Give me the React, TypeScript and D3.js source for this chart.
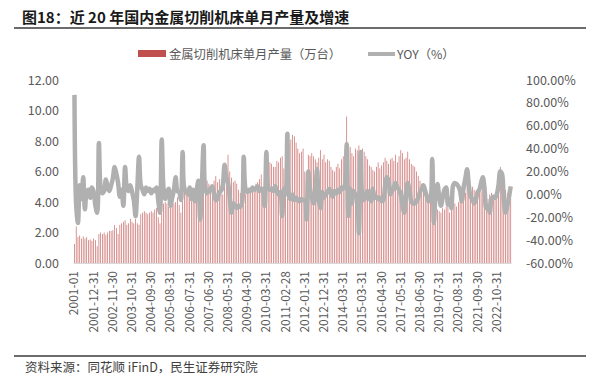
import React from "react";
import * as d3 from "d3";

const title = "图18：近 20 年国内金属切削机床单月产量及增速";
const source = "资料来源：同花顺 iFinD，民生证券研究院";
const legendBar = "金属切削机床单月产量（万台）";
const legendLine = "YOY（%）";

// months present per year (Jan/Feb merged from 2013 on, except Feb 2015)
const yearMonths: [number, number[]][] = [
  [2001, [1, 2, 3, 4, 5, 6, 7, 8, 9, 10, 11, 12]],
  [2002, [1, 2, 3, 4, 5, 6, 7, 8, 9, 10, 11, 12]],
  [2003, [1, 2, 3, 4, 5, 6, 7, 8, 9, 10, 11, 12]],
  [2004, [1, 2, 3, 4, 5, 6, 7, 8, 9, 10, 11, 12]],
  [2005, [1, 2, 3, 4, 5, 6, 7, 8, 9, 10, 11, 12]],
  [2006, [1, 2, 3, 4, 5, 6, 7, 8, 9, 10, 11, 12]],
  [2007, [1, 2, 3, 4, 5, 6, 7, 8, 9, 10, 11, 12]],
  [2008, [1, 2, 3, 4, 5, 6, 7, 8, 9, 10, 11, 12]],
  [2009, [1, 2, 3, 4, 5, 6, 7, 8, 9, 10, 11, 12]],
  [2010, [1, 2, 3, 4, 5, 6, 7, 8, 9, 10, 11, 12]],
  [2011, [1, 2, 3, 4, 5, 6, 7, 8, 9, 10, 11, 12]],
  [2012, [1, 2, 3, 4, 5, 6, 7, 8, 9, 10, 11, 12]],
  [2013, [3, 4, 5, 6, 7, 8, 9, 10, 11, 12]],
  [2014, [3, 4, 5, 6, 7, 8, 9, 10, 11, 12]],
  [2015, [2, 3, 4, 5, 6, 7, 8, 9, 10, 11, 12]],
  [2016, [3, 4, 5, 6, 7, 8, 9, 10, 11, 12]],
  [2017, [3, 4, 5, 6, 7, 8, 9, 10, 11, 12]],
  [2018, [3, 4, 5, 6, 7, 8, 9, 10, 11, 12]],
  [2019, [3, 4, 5, 6, 7, 8, 9, 10, 11, 12]],
  [2020, [3, 4, 5, 6, 7, 8, 9, 10, 11, 12]],
  [2021, [3, 4, 5, 6, 7, 8, 9, 10, 11, 12]],
  [2022, [3, 4, 5, 6, 7, 8, 9, 10, 11, 12]],
  [2023, [3, 4, 5, 6, 7, 8]],
];

const categories: string[] = yearMonths.flatMap(([y, ms]) =>
  ms.map((m) => `${y}-${String(m).padStart(2, "0")}`)
);

const tickLabels = [
  "2001-01", "2001-12-31", "2002-11-30", "2003-10-31", "2004-09-30", "2005-08-31",
  "2006-07-31", "2007-06-30", "2008-05-31", "2009-04-30", "2010-03-31", "2011-02-28",
  "2012-01-31", "2012-12-31", "2014-03-31", "2015-03-31", "2016-04-30", "2017-05-31",
  "2018-06-30", "2019-07-31", "2020-08-31", "2021-09-30", "2022-10-31",
];
const tickStep = 11;

const production = [
  1.25, 2.4, 1.7, 1.8, 1.6, 1.75, 1.6, 1.7, 1.5, 1.55, 1.45, 1.6,
  1.5, 1.1, 1.9, 2.0, 1.9, 2.0, 1.85, 2.0, 2.1, 2.1, 2.15, 2.5,
  2.3, 1.9, 2.5, 2.6, 2.7, 2.8, 2.5, 2.6, 2.9, 2.7, 2.6, 2.9,
  2.6, 2.5, 3.2, 3.3, 3.4, 3.3, 3.2, 3.3, 3.4, 3.3, 3.5, 3.6,
  3.0, 2.6, 3.8, 3.9, 4.0, 3.9, 3.7, 3.8, 4.0, 3.9, 4.0, 4.3,
  3.8, 3.3, 4.6, 4.7, 4.8, 4.7, 4.5, 4.6, 4.8, 4.7, 4.9, 5.0,
  4.2, 3.6, 5.2, 5.3, 5.4, 5.2, 5.0, 5.1, 5.4, 5.7, 5.3, 5.5,
  4.8, 4.5, 5.8, 5.9, 7.1, 6.0, 5.6, 5.3, 5.4, 5.2, 4.8, 4.6,
  3.6, 3.8, 4.5, 4.6, 4.8, 4.9, 4.7, 4.8, 5.2, 5.3, 5.5, 5.8,
  5.0, 4.2, 6.2, 6.4, 6.6, 6.5, 6.3, 6.3, 6.7, 6.6, 6.9, 7.0,
  6.2, 5.6, 7.6, 7.8, 8.1, 8.4, 8.3, 7.9, 7.5, 7.2, 7.3, 7.5,
  6.0, 5.3, 7.1, 7.0, 7.2, 7.0, 6.8, 6.6, 6.9, 7.4, 6.8, 7.1,
  6.6, 6.8, 6.7, 6.3, 6.1, 6.0, 6.3, 6.5, 6.2, 6.8,
  7.0, 7.4, 9.6, 7.3, 7.6, 7.2, 7.0, 7.5, 7.4, 7.7,
  5.0, 7.5, 7.3, 7.0, 6.8, 6.4, 6.3, 6.1, 6.0, 6.3, 6.6,
  6.2, 6.4, 6.6, 6.9, 6.7, 6.5, 6.8, 6.9, 6.7, 7.1,
  6.6, 7.0, 7.4, 7.2, 6.8, 6.9, 7.3, 6.8, 6.5, 6.4,
  6.3, 6.0, 5.7, 5.4, 5.2, 4.9, 4.6, 4.4, 4.2, 4.5,
  3.6, 3.8, 3.7, 3.5, 3.4, 3.3, 3.6, 3.5, 3.7, 3.9,
  3.3, 3.6, 3.8, 3.9, 3.7, 4.0, 4.2, 4.4, 4.3, 4.6,
  5.8, 5.4, 5.2, 5.0, 4.8, 4.6, 4.8, 5.0, 4.7, 5.0,
  4.9, 3.6, 4.2, 4.5, 4.6, 4.3, 4.5, 4.6, 4.7, 6.3,
  5.4, 5.0, 4.8, 4.6, 4.3, 4.6,
];

const yoy = [
  87, -10, -25, 8, -4, 15, -13, 2, 4, -3, 6, 2,
  -10, -16, 45, 6, 1, 3, 13, 6, 3, 8, 14, 24,
  18, 10, -2, 4, -10, 24, 6, 3, 8, 2, -5, -19,
  5, 33, 8, 4, 0, 6, 3, 5, 1, 4, 3, 6,
  -5, -16, 48, 6, -4, 2, 5, -10, -3, 4, 15, 3,
  2, -5, 37, 5, 3, 0, 6, -4, 4, -6, 3, 12,
  -22, 8, 43, 4, 1, 3, 5, 7, 0, -5, -4, 2,
  3, 8, 26, 15, 10, -3, -16, -8, -10, -12, -10, -11,
  -8, 33, 5, 2, 4, 3, 6, 4, 5, 7, 3, 5,
  4, -10, 37, 6, 4, 5, 3, 7, 2, 0, 2, -19,
  5, 0, 53, -2, -4, 0, -5, -3, -5, -6, -4, -5,
  -5, -22, 20, 5, -3, -8, 0, 22, -5, -12, 2, -3,
  0, 2, 5, 1, -2, 3, 1, 4, 2, 6,
  5, 8, 44, -19, 5, -8, 3, 0, -3, -34,
  37, -2, -5, 0, 3, -3, -6, 5, -3, -2, -4,
  -3, -6, -5, 8, 15, 12, 0, 3, 6, 10,
  6, 4, 0, -10, -16, 2, 10, 3, -6, -8,
  -8, -6, -3, 2, 5, 8, 3, -2, -6, -4,
  31, -25, 2, 9, -2, -10, -3, 4, 6, -9,
  -4, -12, 8, 10, 9, 7, 3, -6, 6, 14,
  22, 8, -2, -4, -8, -5, 2, 4, 10, 15,
  5, -12, -10, -16, -4, -2, -3, 0, 8, 20,
  18, -5, -16, -10, -2, 7,
];

const leftTicks = [0, 2, 4, 6, 8, 10, 12];
const rightTicks = [-60, -40, -20, 0, 20, 40, 60, 80, 100];

const W = 598;
const H = 377;
const plot = { left: 73.6, right: 511.6, top: 80, bottom: 263 };
const FONT = "'Noto Sans CJK SC', 'Noto Sans', sans-serif";
const BAR = "#c0504d";
const LINE = "#b0b0b0";
const TEXT = "#595959";

export default function App() {
  const x = d3
    .scaleBand<string>()
    .domain(categories)
    .range([plot.left, plot.right])
    .paddingInner(0)
    .paddingOuter(0);
  const yL = d3.scaleLinear().domain([0, 12]).range([plot.bottom, plot.top]);
  const yR = d3.scaleLinear().domain([-60, 100]).range([plot.bottom, plot.top]);
  const bw = x.bandwidth();
  const cx = (c: string) => (x(c) as number) + bw / 2;

  const line = d3
    .line<number>()
    .x((_, i) => cx(categories[i]))
    .y((d) => yR(d))
    .curve(d3.curveCatmullRom.alpha(0.5));

  return (
    <svg
      width={W}
      height={H}
      style={{ position: "absolute", left: 0, top: 0, background: "#fff" }}
      fontFamily={FONT}
    >
      <text x={22} y={23} fontSize={15} fontWeight="bold" fill="#1a1a1a">
        {title}
      </text>
      <line x1={14} x2={586} y1={28} y2={28} stroke="#3a3a3a" strokeWidth={1.4} />

      {/* legend */}
      <rect x={138} y={50} width={28} height={7} fill={BAR} />
      <text x={169} y={58.5} fontSize={12.3} fill={TEXT}>
        {legendBar}
      </text>
      <line x1={368} x2={395} y1={54} y2={54} stroke={LINE} strokeWidth={4} />
      <text x={397} y={58.5} fontSize={12.3} fill={TEXT}>
        {legendLine}
      </text>

      {/* left axis */}
      {leftTicks.map((t) => (
        <text key={"l" + t} x={59} y={yL(t) + 4.5} fontSize={12.5} textAnchor="end" fill={TEXT}>
          {t.toFixed(2)}
        </text>
      ))}
      {/* right axis */}
      {rightTicks.map((t) => (
        <text key={"r" + t} x={526} y={yR(t) + 4.5} fontSize={12.5} textAnchor="start" fill={TEXT}>
          {t.toFixed(2) + "%"}
        </text>
      ))}

      {/* bars */}
      {production.map((v, i) => (
        <rect
          key={"b" + i}
          x={cx(categories[i]) - 0.35}
          y={yL(v)}
          width={0.7}
          height={yL(0) - yL(v)}
          fill={BAR}
          opacity={0.85}
        />
      ))}
      <line x1={plot.left} x2={plot.right} y1={plot.bottom + 0.5} y2={plot.bottom + 0.5} stroke="#d9d9d9" strokeWidth={1} />

      {/* yoy line */}
      <path d={line(yoy) || ""} fill="none" stroke={LINE} strokeWidth={4.5} strokeLinejoin="round" />

      {/* x tick labels */}
      {tickLabels.map((lab, k) => {
        const c = categories[k * tickStep];
        const px = cx(c) + 4;
        return (
          <text
            key={"x" + k}
            transform={`translate(${px},${271}) rotate(-90)`}
            fontSize={12}
            textAnchor="end"
            fill={TEXT}
          >
            {lab}
          </text>
        );
      })}

      <line x1={14} x2={586} y1={356} y2={356} stroke="#3a3a3a" strokeWidth={1.4} />
      <text x={25} y={372} fontSize={12.5} fill="#404040">
        {source}
      </text>
    </svg>
  );
}
